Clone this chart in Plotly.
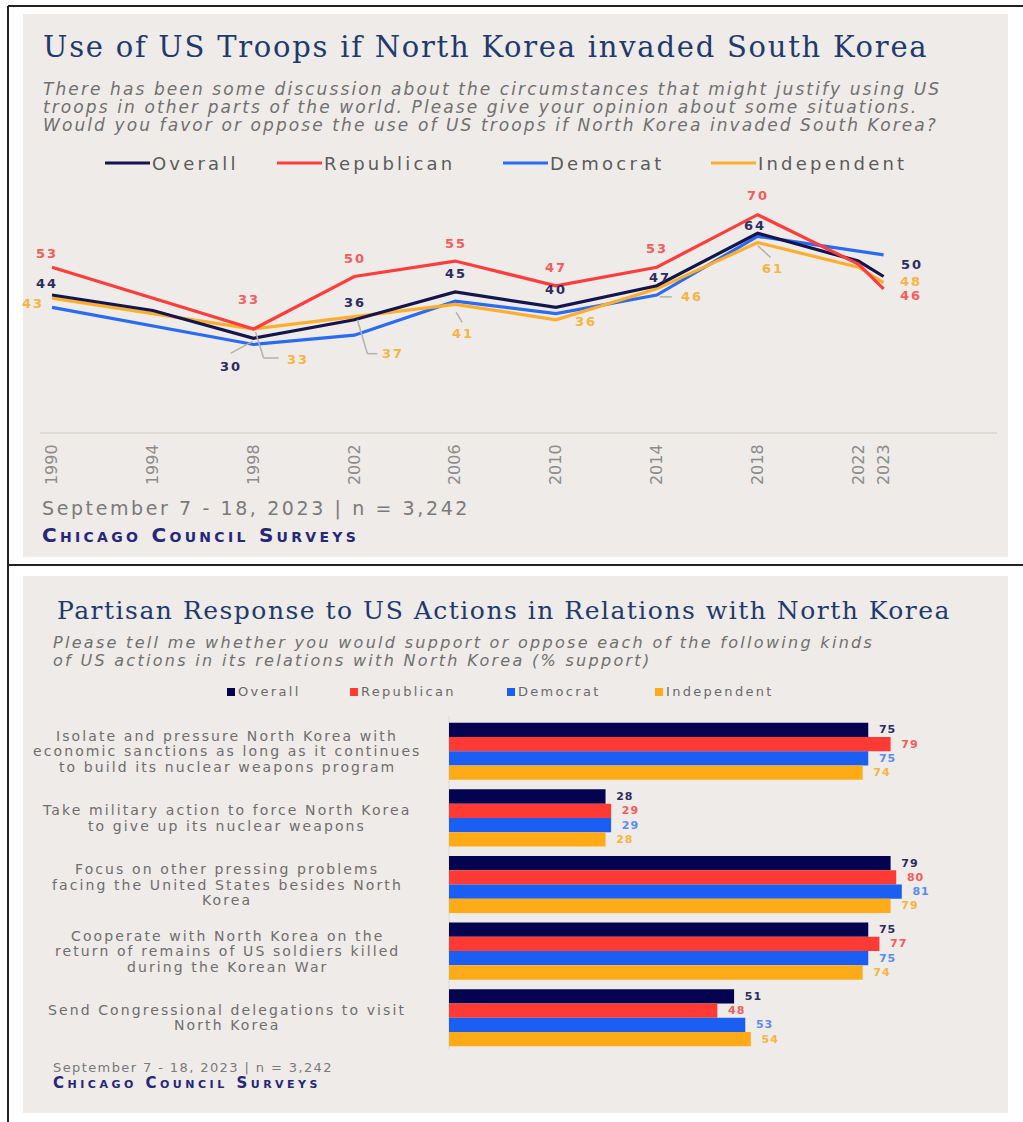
import plotly.graph_objects as go

W, H = 1023, 1122

# ---------------- Panel 1: use of troops over time ----------------
years = [1990, 1994, 1998, 2002, 2006, 2010, 2014, 2018, 2022, 2023]
overall = [44, 39, 30, 36, 45, 40, 47, 64, 55, 50]
republican = [53, None, 33, 50, 55, 47, 53, 70, 54, 46]
democrat = [40, None, 28, 31, 42, 38, 44, 63, None, 57]
independent = [43, None, 33, 37, 41, 36, 46, 61, 53, 48]
tick_years = [1990, 1994, 1998, 2002, 2006, 2010, 2014, 2018, 2022, 2023]
tick_labels = [str(y) for y in tick_years]

# ---------------- Panel 2: partisan support for actions ----------------
actions = [
    "Isolate and pressure North Korea with<br>economic sanctions as long as it continues<br>to build its nuclear weapons program",
    "Take military action to force North Korea<br>to give up its nuclear weapons",
    "Focus on other pressing problems<br>facing the United States besides North<br>Korea",
    "Cooperate with North Korea on the<br>return of remains of US soldiers killed<br>during the Korean War",
    "Send Congressional delegations to visit<br>North Korea",
]
bar_overall = [75, 28, 79, 75, 51]
bar_republican = [79, 29, 80, 77, 48]
bar_democrat = [75, 29, 81, 75, 53]
bar_independent = [74, 28, 79, 74, 54]

series_names = ["Overall", "Republican", "Democrat", "Independent"]
line_colors = {"Overall": "#15154d", "Republican": "#ff3d3d",
               "Democrat": "#2a6bf4", "Independent": "#fcae2c"}
bar_colors = {"Overall": "#03034f", "Republican": "#ff3a35",
              "Democrat": "#1b5ef2", "Independent": "#ffab18"}
label_colors = {"Overall": "#2c2c60", "Republican": "#f45c5c",
                "Democrat": "#5a8cf2", "Independent": "#f6b443"}

SANS = "DejaVu Sans"
SERIF = "DejaVu Serif"
TITLE_COLOR = "#1f3a6c"
GREY = "#707070"
BRAND = "#26267a"
PANEL_BG = "#eeebe8"


def px(x):
    return x / W


def py(y):
    return 1 - y / H


def spaced(text, ls):
    return f'<span style="letter-spacing:{ls}px">{text}</span>' if ls else text


def note(text, x, y, size, color, family=SANS, xanchor="left", ls=0,
         weight="normal", style="normal", variant="normal"):
    return dict(text=spaced(text, ls), x=px(x), y=py(y), xref="paper", yref="paper",
                xanchor=xanchor, yanchor="middle", showarrow=False,
                font=dict(family=family, size=size, color=color, weight=weight,
                          style=style, variant=variant))


fig = go.Figure()

# line chart geometry (pixels)
L_X0, L_X1 = 40, 997
YEAR0_PX, PX_PER_YEAR = 52, 25.2
L_BASE, L_TOP, PX_PER_PT = 431, 180, 3.09

# bar chart geometry (pixels)
B_X0, B_X1, PX_PER_UNIT = 449, 1000, 5.59
B_TOP, B_BOTTOM = 718, 1051

series_values = {"Overall": overall, "Republican": republican,
                 "Democrat": democrat, "Independent": independent}

for name in ["Democrat", "Independent", "Overall", "Republican"]:
    fig.add_trace(go.Scatter(
        x=years, y=series_values[name], mode="lines", connectgaps=True,
        line=dict(color=line_colors[name], width=3.2),
        hoverinfo="skip", showlegend=False, xaxis="x", yaxis="y"))

bar_values = {"Overall": bar_overall, "Republican": bar_republican,
              "Democrat": bar_democrat, "Independent": bar_independent}
NB = "\u00a0"
for name in series_names:
    vals = bar_values[name]
    fig.add_trace(go.Bar(
        y=actions, x=vals, orientation="h", name=name,
        marker=dict(color=bar_colors[name], line=dict(width=0)),
        text=[NB * 2 + spaced(str(v), 1) for v in vals],
        textposition="outside", constraintext="none", cliponaxis=False,
        textfont=dict(family=SANS, size=11, color=label_colors[name], weight="bold"),
        hoverinfo="skip", showlegend=False, xaxis="x2", yaxis="y2"))

shapes = []
# page frame and panel backgrounds
shapes.append(dict(type="rect", xref="paper", yref="paper", layer="below",
                   x0=px(23), x1=px(1008), y0=py(557), y1=py(14),
                   fillcolor=PANEL_BG, line=dict(width=0)))
shapes.append(dict(type="rect", xref="paper", yref="paper", layer="below",
                   x0=px(23), x1=px(1008), y0=py(1113), y1=py(576),
                   fillcolor=PANEL_BG, line=dict(width=0)))
for (x0, y0, x1, y1) in [(8, 6, 1023, 6), (8, 6, 8, 1122), (8, 565, 1023, 565)]:
    shapes.append(dict(type="line", xref="paper", yref="paper",
                       x0=px(x0), y0=py(y0), x1=px(x1), y1=py(y1),
                       line=dict(color="#222222", width=2)))
# line chart baseline
shapes.append(dict(type="line", xref="paper", yref="paper", layer="below",
                   x0=px(L_X0), x1=px(L_X1), y0=py(433), y1=py(433),
                   line=dict(color="#dedbd7", width=2)))
# bar chart zero line
shapes.append(dict(type="line", xref="paper", yref="paper", layer="below",
                   x0=px(B_X0), x1=px(B_X0), y0=py(716), y1=py(1050),
                   line=dict(color="#dcdad6", width=1)))

annotations = []

# ---------------- Panel 1 texts ----------------
annotations.append(note("Use of US Troops if North Korea invaded South Korea",
                        41, 47, 29, TITLE_COLOR, family=SERIF, ls=1.75))
sub1 = ["There has been some discussion about the circumstances that might justify using US",
        "troops in other parts of the world. Please give your opinion about some situations.",
        "Would you favor or oppose the use of US troops if North Korea invaded South Korea?"]
for i, line in enumerate(sub1):
    annotations.append(note(line, 41, 89 + 18 * i, 17, GREY, ls=2.1, style="italic"))

legend1 = [("Overall", 105), ("Republican", 277), ("Democrat", 503), ("Independent", 711)]
for name, x in legend1:
    shapes.append(dict(type="line", xref="paper", yref="paper",
                       x0=px(x), x1=px(x + 45), y0=py(163), y1=py(163),
                       line=dict(color=line_colors[name], width=3)))
    annotations.append(note(name, x + 45, 163, 18, "#5b5b5b", ls=3.2))

# point labels: (series, year, dx, dy) in pixels, dy downward
point_labels = [
    ("Overall", 1990, -5, -12), ("Overall", 1998, -23, 28), ("Overall", 2002, 1, -17),
    ("Overall", 2006, 1, -18), ("Overall", 2010, 0, -18), ("Overall", 2014, 3, -8),
    ("Overall", 2018, -3, -8), ("Overall", 2023, 28, -12),
    ("Republican", 1990, -5, -14), ("Republican", 1998, -5, -30), ("Republican", 2002, 1, -18),
    ("Republican", 2006, 1, -18), ("Republican", 2010, 0, -18), ("Republican", 2014, 0, -19),
    ("Republican", 2018, 0, -19), ("Republican", 2023, 27, 7),
    ("Independent", 1990, -19, 5), ("Independent", 1998, 44, 30), ("Independent", 2002, 39, 37),
    ("Independent", 2006, 8, 29), ("Independent", 2010, 30, 2), ("Independent", 2014, 35, 8),
    ("Independent", 2018, 15, 26), ("Independent", 2023, 27, -1),
]
for name, yr, dx, dy in point_labels:
    v = series_values[name][years.index(yr)]
    annotations.append(dict(
        text=spaced(str(v), 2), x=yr, y=v, xref="x", yref="y",
        xshift=dx, yshift=-dy, showarrow=False, xanchor="center", yanchor="middle",
        borderpad=0,
        font=dict(family=SANS, size=13, color=label_colors[name], weight="bold")))

# leader lines: (series, year, polyline offsets in pixels, y downward)
leaders = [
    ("Overall", 1998, [(-23, 15), (-1, 3)]),
    ("Independent", 1998, [(2, 3), (10, 29), (25, 29)]),
    ("Independent", 2002, [(3, 3), (13, 37), (23, 37)]),
    ("Independent", 2006, [(1, 8), (7, 18)]),
    ("Independent", 2014, [(3, 8), (15, 8)]),
    ("Independent", 2018, [(0, 3), (13, 15)]),
]
for name, yr, pts in leaders:
    v = series_values[name][years.index(yr)]
    for (ax, ay), (bx, by) in zip(pts[:-1], pts[1:]):
        shapes.append(dict(type="line", xref="x", yref="y",
                           xsizemode="pixel", ysizemode="pixel",
                           xanchor=yr, yanchor=v,
                           x0=ax, x1=bx, y0=-ay, y1=-by,
                           line=dict(color="#b4b2ae", width=1.5)))

annotations.append(note("September 7 - 18, 2023 | n = 3,242", 40, 509, 19, "#7a7a7a", ls=2.6))
annotations.append(note("Chicago Council Surveys", 40, 535, 20, BRAND, ls=3.3,
                        weight="bold", variant="small-caps"))

# ---------------- Panel 2 texts ----------------
annotations.append(note("Partisan Response to US Actions in Relations with North Korea",
                        55, 610, 25, TITLE_COLOR, family=SERIF, ls=1.5))
sub2 = ["Please tell me whether you would support or oppose each of the following kinds",
        "of US actions in its relations with North Korea (% support)"]
for i, line in enumerate(sub2):
    annotations.append(note(line, 51, 642 + 18 * i, 16, GREY, ls=2.3, style="italic"))

legend2 = [("Overall", 227), ("Republican", 350), ("Democrat", 507), ("Independent", 655)]
for name, x in legend2:
    shapes.append(dict(type="rect", xref="paper", yref="paper",
                       x0=px(x), x1=px(x + 8), y0=py(696), y1=py(688),
                       fillcolor=bar_colors[name], line=dict(width=0)))
    annotations.append(note(name, x + 9, 692, 13, "#6a6a6a", ls=2.3))

LINE_GAP = 15.5
for i, label in enumerate(actions):
    lines = label.split("<br>")
    n = len(lines)
    for k, line in enumerate(lines):
        annotations.append(dict(
            text=spaced(line, 2.1), x=px(227), y=i, xref="paper", yref="y2",
            yshift=-(k - (n - 1) / 2) * LINE_GAP, showarrow=False,
            xanchor="center", yanchor="middle",
            font=dict(family=SANS, size=14, color="#6e6e6e")))

annotations.append(note("September 7 - 18, 2023 | n = 3,242", 51, 1067, 13, "#7a7a7a", ls=1.4))
annotations.append(note("Chicago Council Surveys", 51, 1083, 15, BRAND, ls=3.5,
                        weight="bold", variant="small-caps"))

fig.update_layout(
    width=W, height=H, autosize=False,
    margin=dict(l=0, r=0, t=0, b=0, pad=0),
    paper_bgcolor="white", plot_bgcolor="rgba(0,0,0,0)",
    barmode="group", bargap=0.143, bargroupgap=0,
    shapes=shapes, annotations=annotations,
    xaxis=dict(domain=[px(L_X0), px(L_X1)],
               range=[1990 - (YEAR0_PX - L_X0) / PX_PER_YEAR,
                      1990 + (L_X1 - YEAR0_PX) / PX_PER_YEAR],
               tickmode="array", tickvals=tick_years, ticktext=tick_labels,
               tickangle=-90, ticks="outside", ticklen=6, tickcolor="rgba(0,0,0,0)",
               tickfont=dict(family=SANS, size=16, color="#8c8c8c"),
               showgrid=False, zeroline=False, showline=False, fixedrange=True),
    yaxis=dict(domain=[py(L_BASE), py(L_TOP)],
               range=[0, (L_BASE - L_TOP) / PX_PER_PT],
               visible=False, fixedrange=True),
    xaxis2=dict(domain=[px(B_X0), px(B_X1)], anchor="y2",
                range=[0, (B_X1 - B_X0) / PX_PER_UNIT],
                visible=False, fixedrange=True),
    yaxis2=dict(domain=[py(B_BOTTOM), py(B_TOP)], anchor="x2", type="category",
                range=[len(actions) - 0.5, -0.5], visible=False, fixedrange=True),
)

fig.write_html("out.html")
